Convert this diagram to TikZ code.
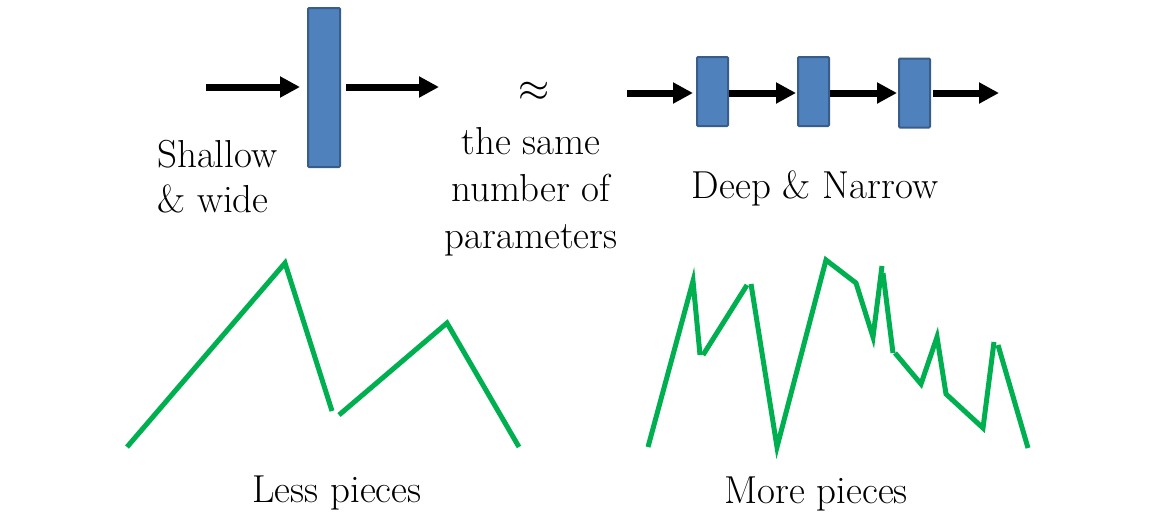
\documentclass[tikz,border=0pt]{standalone}
\usetikzlibrary{arrows.meta}
\definecolor{blkfill}{HTML}{4F81BD}
\definecolor{blkdraw}{HTML}{385D8A}
\definecolor{pgreen}{HTML}{00B050}
\begin{document}
\begin{tikzpicture}[x=1pt,y=-1pt,
  blk/.style={draw=blkdraw,fill=blkfill,line width=2pt,inner sep=0pt,rounded corners=1pt},
  bigblk/.style={blk,minimum width=32pt,minimum height=159pt},
  smallblk/.style={blk,minimum width=31pt,minimum height=69pt},
  conn/.style={line width=7pt,-{Triangle[length=20pt,width=20pt]}},
  lbl/.style={inner sep=0pt,font=\fontsize{39}{45}\selectfont},
  curve/.style={pgreen,line width=5pt}]
\useasboundingbox (0,0) rectangle (1156,515);
% shallow & wide
\node[bigblk] (wide) at (324,87.5) {};
\coordinate (win) at (206,87);
\coordinate (wout) at (439,87);
\draw[conn,shorten >=7pt] (win) -- (win -| wide.west);
\draw[conn,shorten <=5pt] (wout -| wide.east) -- (wout);
\node[lbl,anchor=base west] (sh1) at (157,167) {Shallow};
\node[lbl,anchor=base west] (sh2) at (157,212) {\& wide};
% approx
\node[inner sep=0pt] (approx) at (534,92) {\scalebox{4}{\fontsize{10}{12}\selectfont$\approx$}};
\node[lbl,anchor=base] (p1) at (531,154) {the same};
\node[lbl,anchor=base] (p2) at (531,201) {number of};
\node[lbl,anchor=base] (p3) at (531,248) {parameters};
% deep & narrow
\node[smallblk] (d1) at (712.5,91.5) {};
\node[smallblk] (d2) at (813.5,91.5) {};
\node[smallblk] (d3) at (914.5,93) {};
\coordinate (din) at (627,93);
\coordinate (dout) at (999,93);
\draw[conn,shorten >=3pt] (din) -- (din -| d1.west);
\draw[conn,shorten >=1pt] (d1.east |- din) -- (d2.west |- din);
\draw[conn,shorten >=1pt] (d2.east |- din) -- (d3.west |- din);
\draw[conn,shorten <=2pt] (d3.east |- dout) -- (dout);
\node[lbl,anchor=base] (dn) at (815,198) {Deep \& Narrow};
% curves
\draw[curve] (127,447) -- (285,263) -- (332,411);
\draw[curve] (339,415) -- (447,323) -- (519,447);
\draw[curve] (648,447) -- (693,281) -- (700,355);
\draw[curve] (703,355) -- (747,285);
\draw[curve] (751,284) -- (777,447) -- (826,260) -- (856,283) -- (873,337) -- (882,266);
\draw[curve] (883,273) -- (893,353);
\draw[curve] (895,353) -- (921,384) -- (937,337) -- (946,394) -- (983,428) -- (994,342);
\draw[curve] (998,345) -- (1028,448);
\node[lbl,anchor=base] (less) at (337,502) {Less pieces};
\node[lbl,anchor=base] (more) at (816,503) {More pieces};
\end{tikzpicture}
\end{document}
